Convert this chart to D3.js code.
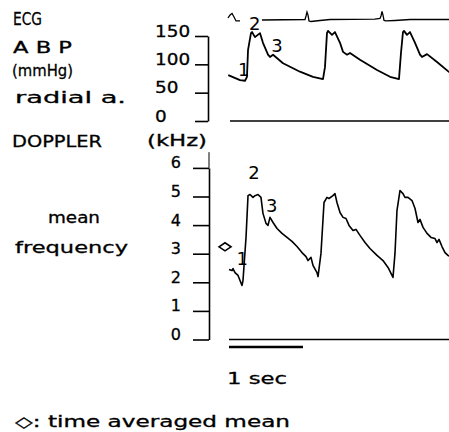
<!DOCTYPE html>
<html>
<head>
<meta charset="utf-8">
<script src="https://cdn.jsdelivr.net/npm/d3@7"></script>
<style>
  body { margin: 0; background: #fff; }
  svg text { font-family: "DejaVu Sans", sans-serif; fill: #000; }
</style>
</head>
<body>
<div id="chart"></div>
<script>
// Time axis (seconds)
const timeBar = [0, 1];

// ECG trace (arbitrary units), null = gap for the "2" label
const ecgTime = [-0.014, 0.014, 0.041, 0.068, 0.095, 0.149, null, 0.446, 1.027, 1.041, 1.054, 1.068, 1.081, 1.108, 1.23, 1.365, 1.97, 2.04, 2.054, 2.068, 2.081, 2.095, 2.122, 2.243, 2.446, 2.98];
const ecgValue = [0.25, 0.62, 0.81, 0.37, -0.12, -0.12, null, 0, 0.06, 0.5, 1.0, 0.62, -0.12, -0.19, -0.06, 0.06, 0.12, 0.19, 0.5, 1.06, 0.62, -0.06, -0.12, -0.06, 0.06, 0.06];

// Arterial blood pressure, radial artery (mmHg)
const abpTime = [-0.01, 0.149, 0.216, 0.243, 0.257, 0.297, 0.311, 0.351, 0.419, 0.459, 0.527, 0.554, 0.595, 0.73, 0.959, 1.135, 1.27,
  1.297, 1.324, 1.338, 1.392, 1.432, 1.5, 1.541, 1.595, 1.635, 1.77, 2.0, 2.176, 2.297,
  2.324, 2.351, 2.365, 2.405, 2.446, 2.514, 2.581, 2.608, 2.676, 2.811, 2.959, 2.98];
const abpValue = [81, 72, 71, 78, 125, 155, 157, 148, 155, 138, 117, 113, 117, 102, 87, 78, 74,
  95, 155, 159, 152, 157, 138, 122, 117, 120, 108, 90, 78, 74,
  120, 157, 159, 152, 157, 138, 117, 113, 118, 104, 88, 86];
const abpTicks = [0, 50, 100, 150];

// Doppler mean frequency (kHz)
const dopTime = [0, 0.041, 0.054, 0.081, 0.122, 0.176, 0.189, 0.23, 0.257, 0.284, 0.324, 0.351, 0.392, 0.432, 0.459, 0.5, 0.527, 0.554, 0.595,
  0.649, 0.716, 0.784, 0.851, 0.919, 0.986, 1.041, 1.068, 1.108, 1.135, 1.189, 1.203,
  1.243, 1.284, 1.324, 1.351, 1.405, 1.432, 1.459, 1.5, 1.541, 1.581, 1.622, 1.676, 1.716, 1.77, 1.838, 1.905, 2.0, 2.081, 2.149, 2.216,
  2.243, 2.27, 2.311, 2.351, 2.378, 2.419, 2.473, 2.514, 2.554, 2.581, 2.622, 2.676, 2.73, 2.784, 2.811, 2.838, 2.878, 2.919, 2.959, 2.98];
const dopValue = [2.45, 2.41, 2.48, 2.34, 2.24, 1.89, 2.06, 3.57, 5.03, 5.07, 4.97, 5.03, 5.07, 4.97, 4.41, 4.06, 3.99, 4.27, 4.09,
  3.88, 3.71, 3.57, 3.43, 3.25, 3.04, 2.9, 2.76, 2.87, 2.59, 2.34, 2.2,
  3.01, 4.79, 4.97, 4.93, 5.03, 5.1, 4.79, 4.44, 4.27, 4.23, 3.99, 3.81, 3.85, 3.64, 3.39, 3.18, 2.94, 2.76, 2.52, 2.17,
  3.01, 4.51, 5.21, 5.1, 4.97, 4.97, 4.86, 4.58, 4.09, 4.2, 3.92, 3.71, 3.57, 3.53, 3.39, 3.5, 3.25, 3.04, 2.94, 2.92];
const dopTicks = [0, 1, 2, 3, 4, 5, 6];
const timeAveragedMean = 3.24;

// Point labels 1, 2, 3 on each trace: [label, time, value]
const abpMarks = [["1", 0.12, 80], ["3", 0.57, 122]];
const dopMarks = [["1", 0.1, 2.6], ["2", 0.26, 5.6], ["3", 0.5, 4.45]];

const width = 449, height = 432;

let svg = d3.select("#chart")
    .append("svg")
    .attr("width", width)
    .attr("height", height);

svg.append("rect").attr("width", width).attr("height", height).attr("fill", "#fff");

// Scales
let x = d3.scaleLinear().domain([0, 3]).range([229, 451]);
let yEcg = d3.scaleLinear().domain([0, 1]).range([20, 12]);
let yAbp = d3.scaleLinear().domain([0, 150]).range([121, 36]);
let yDop = d3.scaleLinear().domain([0, 6]).range([339.5, 167.9]);

// Left labels
function label(txt, lx, ly, size, len) {
    return svg.append("text")
        .attr("x", lx).attr("y", ly)
        .attr("font-size", size)
        .attr("textLength", len)
        .attr("lengthAdjust", "spacingAndGlyphs")
        .attr("stroke", "#000").attr("stroke-width", 0.3)
        .text(txt);
}
label("ECG", 13, 25, 18, 29);
label("A B P", 13, 53, 15, 59);
label("(mmHg)", 12, 76, 16, 61);
label("radial a.", 15, 103, 16, 111);
label("DOPPLER", 12, 147, 16, 90);
label("(kHz)", 147, 146, 16, 60);
label("mean", 48, 223, 15, 52);
label("frequency", 15, 253, 16, 113);
label("1 sec", 227, 384, 16, 60);
label("\u25C7: time averaged mean", 15, 427, 15, 275);

// ABP axis
let abpAxis = svg.append("g")
    .attr("transform", `translate(208,0)`)
    .call(d3.axisLeft(yAbp).tickValues(abpTicks).tickSize(13).tickSizeOuter(0));
abpAxis.selectAll("text")
    .attr("text-anchor", "start")
    .attr("x", -53)
    .attr("dy", 0)
    .attr("font-size", 16)
    .attr("textLength", (d) => String(d).length * 11.7)
    .attr("lengthAdjust", "spacingAndGlyphs");

// Doppler axis
let dopAxis = svg.append("g")
    .attr("transform", `translate(209,0)`)
    .call(d3.axisLeft(yDop).tickValues(dopTicks).tickFormat(d3.format("d")).tickSize(16).tickSizeOuter(0));
dopAxis.selectAll("text")
    .attr("x", -28)
    .attr("dy", 0)
    .attr("font-size", 16);
dopAxis.append("line")
    .attr("x1", 0).attr("x2", 0)
    .attr("y1", yDop(6)).attr("y2", yDop(6.55))
    .attr("stroke", "#000");

svg.selectAll(".domain, .tick line").attr("stroke", "#000").attr("stroke-width", 1.6);
svg.selectAll(".tick text")
    .attr("fill", "#000")
    .attr("stroke", "#000").attr("stroke-width", 0.3)
    .attr("font-family", "DejaVu Sans Mono, monospace");
svg.selectAll("g").attr("font-family", null);

// Zero baselines
svg.append("line")
    .attr("x1", x(0) + 1).attr("x2", width)
    .attr("y1", yAbp(0)).attr("y2", yAbp(0))
    .attr("stroke", "#000").attr("stroke-width", 1.3);
svg.append("line")
    .attr("x1", x(0)).attr("x2", width)
    .attr("y1", yDop(0)).attr("y2", yDop(0))
    .attr("stroke", "#000").attr("stroke-width", 1.3);

// 1 sec bar
svg.append("line")
    .attr("x1", x(timeBar[0])).attr("x2", x(timeBar[1]))
    .attr("y1", yDop(0) + 7.5).attr("y2", yDop(0) + 7.5)
    .attr("stroke", "#000").attr("stroke-width", 2.6);

// Traces
let ecgData = ecgTime.map((t, i) => ({t: t, v: ecgValue[i]}));
let ecgLine = d3.line()
    .defined((d) => d.t !== null)
    .x((d) => x(d.t)).y((d) => yEcg(d.v));
svg.append("path")
    .attr("d", ecgLine(ecgData))
    .attr("fill", "none").attr("stroke", "#000").attr("stroke-width", 1.3);

let abpLine = d3.line().x((d, i) => x(abpTime[i])).y((d) => yAbp(d));
svg.append("path")
    .attr("d", abpLine(abpValue))
    .attr("fill", "none").attr("stroke", "#000").attr("stroke-width", 1.8)
    .attr("stroke-linejoin", "round");

let dopLine = d3.line().x((d, i) => x(dopTime[i])).y((d) => yDop(d));
svg.append("path")
    .attr("d", dopLine(dopValue))
    .attr("fill", "none").attr("stroke", "#000").attr("stroke-width", 1.6)
    .attr("stroke-linejoin", "round");

// Point number labels
function marks(list, yScale) {
    svg.selectAll(null)
        .data(list)
        .enter()
        .append("text")
        .attr("x", (d) => x(d[1]))
        .attr("y", (d) => yScale(d[2]))
        .attr("font-size", 18)
        .attr("font-family", "Liberation Sans Narrow, Liberation Sans, sans-serif")
        .text((d) => d[0]);
}
marks(abpMarks, yAbp);
marks(dopMarks, yDop);
// "2" on the ECG line
svg.append("text")
    .attr("x", x(0.27)).attr("y", yEcg(-1.2))
    .attr("font-size", 18)
    .attr("font-family", "Liberation Sans Narrow, Liberation Sans, sans-serif")
    .text("2");

// Time averaged mean diamond
let dy = yDop(timeAveragedMean), dx = x(0) - 4;
svg.append("path")
    .attr("d", `M${dx - 6},${dy} L${dx},${dy - 4} L${dx + 6},${dy} L${dx},${dy + 4} Z`)
    .attr("fill", "none").attr("stroke", "#000").attr("stroke-width", 1.6);
</script>
</body>
</html>
